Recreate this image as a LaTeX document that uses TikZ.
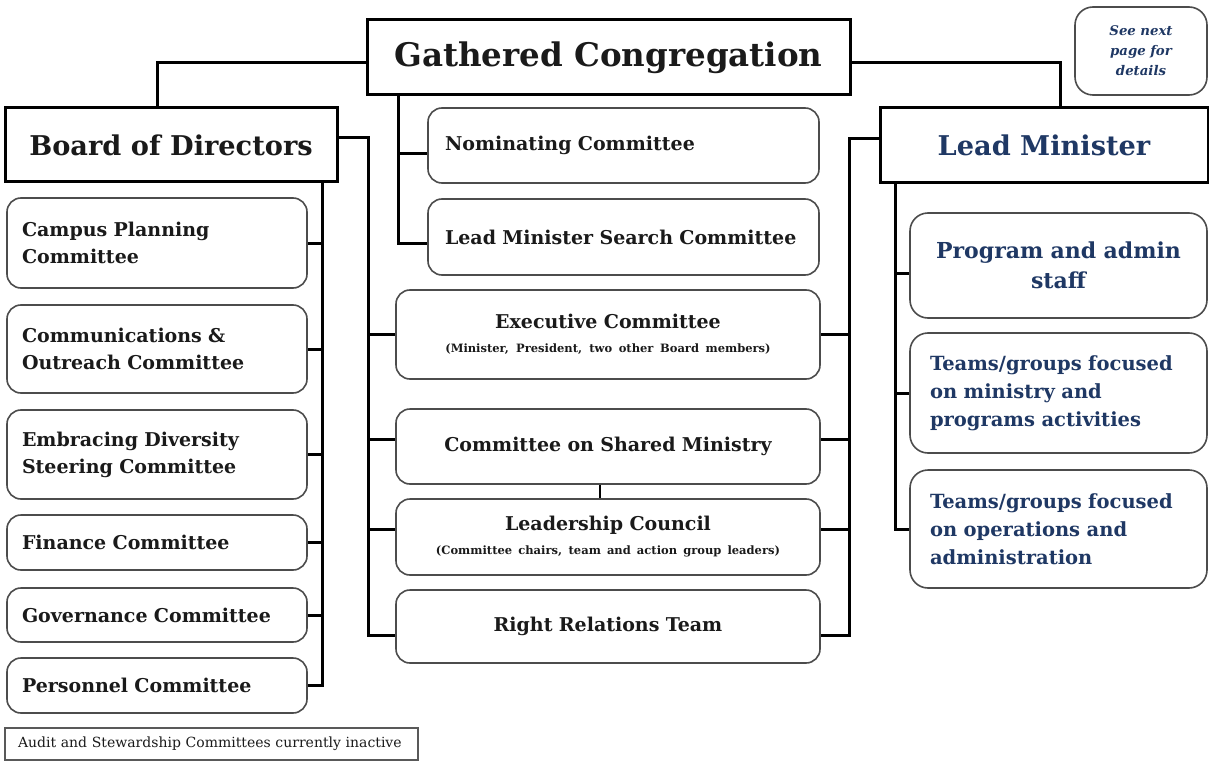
\documentclass[tikz,border=0pt]{standalone}
\usepackage{fontspec}
\setmainfont{DejaVu Serif}
\usetikzlibrary{positioning}
\definecolor{navy}{HTML}{1F3864}
\definecolor{ink}{HTML}{1A1A1A}
\newcommand\members[1]{{\fontsize{11.5}{14}\selectfont\spaceskip=0pt #1}}

\begin{document}
\begin{tikzpicture}[x=1pt, y=-1pt,
  head/.style={draw, line width=3pt, fill=white, inner sep=0pt, text=ink,
    font=\bfseries\fontsize{27.2}{32}\selectfont},
  unit/.style={draw=black!70, line width=1.6pt, rounded corners=14pt, fill=white,
    inner sep=0pt, text=ink, font=\bfseries\fontsize{19}{27}\selectfont},
  board/.style={unit, text width=270pt, inner xsep=15pt, align=left},
  middle/.style={unit, text width=424pt, align=center},
  staff/.style={unit, text width=257pt, inner xsep=20pt, align=left, text=navy,
    rounded corners=18pt, font=\bfseries\fontsize{19.5}{28}\selectfont},
  link/.style={line width=3pt}]
  \useasboundingbox (0,0) rectangle (1209,762);

  % kopf
  \node[head, minimum width=483pt, minimum height=75pt,
    font=\bfseries\fontsize{32.5}{38}\selectfont] (gc) at (608.5,57.5) {Gathered Congregation};
  \node[head, minimum width=332pt, minimum height=74pt] (bod) at (171,145) {Board of Directors};
  \node[head, minimum width=328pt, minimum height=75pt, text=navy] (lm) at (1044,145.5) {Lead Minister};
  \node[unit, minimum width=132pt, minimum height=88pt, text width=132pt, align=center,
    text=navy, rounded corners=18pt, font=\bfseries\itshape\fontsize{13.3}{20}\selectfont]
    (nextpage) at (1141,51) {See next\\page for\\details};

  % board committees
  \node[board, minimum height=90pt] (campus) at (157,243) {Campus Planning\\Committee};
  \node[board, minimum height=88pt] (comm) at (157,349) {Communications \&\\Outreach Committee};
  \node[board, minimum height=89pt] (embr) at (157,454.5) {Embracing Diversity\\Steering Committee};
  \node[board, minimum height=55pt] (fin) at (157,542.5) {Finance Committee};
  \node[board, minimum height=54pt] (gov) at (157,615) {Governance Committee};
  \node[board, minimum height=55pt] (pers) at (157,685.5) {Personnel Committee};
  \node[draw=black!65, line width=1.5pt, minimum width=413pt, minimum height=32pt,
    text width=387pt, inner xsep=13pt, inner ysep=0pt, align=left, text=ink,
    font=\fontsize{14}{16}\selectfont] (audit) at (211.5,744)
    {Audit and Stewardship Committees currently inactive};

  % congregation committees
  \node[unit, minimum height=75pt, text width=357pt, inner xsep=17pt, align=left]
    (nom) at (623.5,145.5) {Nominating Committee};
  \node[unit, minimum height=76pt, text width=357pt, inner xsep=17pt, align=left]
    (lms) at (623.5,237) {Lead Minister Search Committee};

  % shared bodies
  \node[middle, minimum height=89pt] (exec) at (608,334.5)
    {Executive Committee\\[-3pt]\members{(Minister, President, two other Board members)}};
  \node[middle, minimum height=75pt] (csm) at (608,446.5) {Committee on Shared Ministry};
  \node[middle, minimum height=76pt] (lc) at (608,537)
    {Leadership Council\\[-3pt]\members{(Committee chairs, team and action group leaders)}};
  \node[middle, minimum height=73pt] (rrt) at (608,626.5) {Right Relations Team};

  % staff
  \node[staff, minimum height=105pt, align=center, font=\bfseries\fontsize{22}{30}\selectfont]
    (pas) at (1058.5,265.5) {Program and admin\\staff};
  \node[staff, minimum height=120pt] (tm1) at (1058.5,393)
    {Teams/groups focused\\on ministry and\\programs activities};
  \node[staff, minimum height=118pt] (tm2) at (1058.5,529)
    {Teams/groups focused\\on operations and\\administration};

  % linien
  \draw[link] ([yshift=-5.5pt]gc.west) -| ([xshift=-14pt]bod.north);
  \draw[link] ([yshift=-5.5pt]gc.east) -| ([xshift=16pt]lm.north);

  \coordinate (gtrunk) at (398,95);
  \draw[link] (gtrunk) |- ([yshift=-6pt]lms.west);
  \draw[link] (gtrunk |- 0,154) -- ([yshift=-8.5pt]nom.west);

  \coordinate (btrunk) at (322,182);
  \draw[link] (btrunk) |- (pers.east);
  \foreach \b in {campus,comm,embr,fin,gov}
    \draw[link] (btrunk |- \b.east) -- (\b.east);

  \coordinate (ltrunk) at (368,138);
  \coordinate (rtrunk) at (849,138);
  \draw[link] ([yshift=7pt]bod.east) -| (ltrunk |- 0,635) -- ([yshift=-8.5pt]rrt.west);
  \draw[link] ([yshift=7pt]lm.west) -| (rtrunk |- 0,635) -- ([yshift=-8.5pt]rrt.east);
  \foreach \b/\s in {exec/0,csm/7.5,lc/8} {
    \draw[link] (ltrunk |- \b.west) ++(0,-\s) -- ([yshift=\s pt]\b.west);
    \draw[link] (rtrunk |- \b.east) ++(0,-\s) -- ([yshift=\s pt]\b.east);
  }
  \draw[link, line width=2.5pt] ([xshift=-8pt]csm.south) -- ([xshift=-8pt]lc.north);

  \coordinate (mtrunk) at (895,183);
  \draw[link] (mtrunk) |- (tm2.west);
  \draw[link] (mtrunk |- pas.west) ++(0,7.5) -- ([yshift=-7.5pt]pas.west);
  \draw[link] (mtrunk |- tm1.west) -- (tm1.west);
\end{tikzpicture}
\end{document}
